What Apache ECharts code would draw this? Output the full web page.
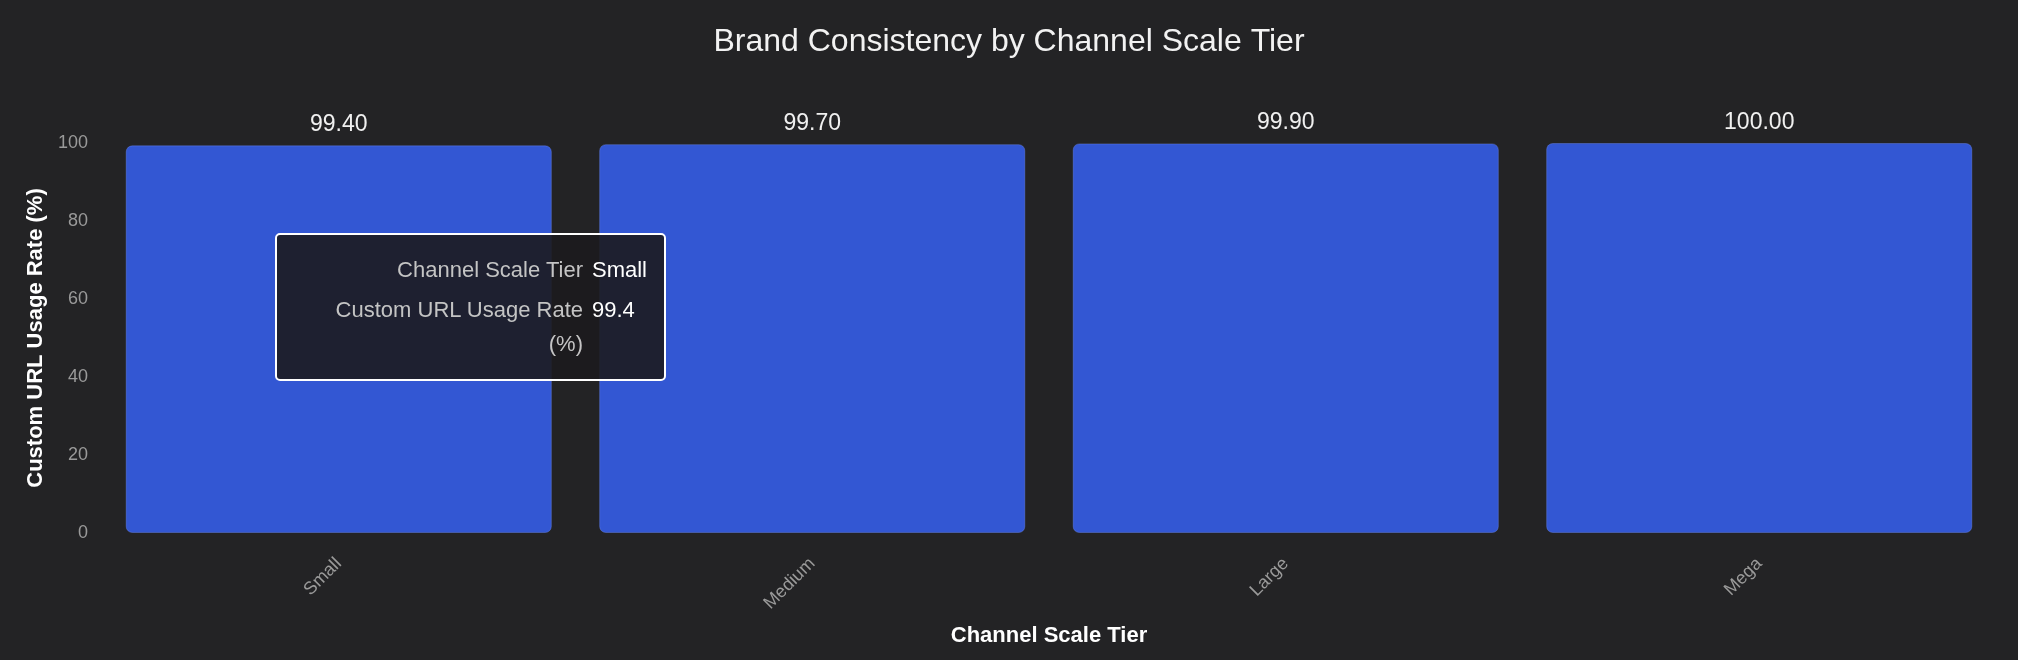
<!DOCTYPE html>
<html>
<head>
    <meta charset="utf-8">
    <title>Brand Consistency by Channel Scale Tier</title>
    <style>
        html, body { margin: 0; padding: 0; background: #232325; }
        #chart { width: 2018px; height: 660px; }
    </style>
</head>
<body>
<div id="chart"></div>

<script src="https://cdn.jsdelivr.net/npm/echarts@6/dist/echarts.min.js"></script>
<script>
    // data
    var tiers = ['Small', 'Medium', 'Large', 'Mega'];
    var usageRate = [99.4, 99.7, 99.9, 100.0];
    var yTicks = [0, 20, 40, 60, 80, 100];

    var font = '"Liberation Sans", "Helvetica Neue", Arial, sans-serif';

    var chart = echarts.init(document.getElementById('chart'));
    var option = {
        backgroundColor: '#232325',
        textStyle: { fontFamily: font },
        title: {
            text: 'Brand Consistency by Channel Scale Tier',
            left: 'center',
            top: 21,
            textStyle: { color: '#f2f2f2', fontSize: 32, fontWeight: 'normal', fontFamily: font }
        },
        grid: { left: 102, right: 22, top: 143, bottom: 127 },
        tooltip: {
            trigger: 'item',
            alwaysShowContent: true,
            position: [275, 233],
            backgroundColor: 'rgba(28,27,30,0.9)',
            borderColor: '#ffffff',
            borderWidth: 2,
            borderRadius: 5,
            padding: [18, 17, 18, 44],
            textStyle: { color: '#ffffff', fontSize: 22, fontFamily: font },
            extraCssText: 'box-shadow:none;',
            formatter: function (p) {
                var lab = 'text-align:right;color:#c4c4c4;padding:0 9px 0 0;vertical-align:top;';
                var val = 'color:#ffffff;vertical-align:top;text-align:left;padding:0;';
                return '<table style="border-collapse:collapse;font-size:22px;line-height:34px;">' +
                    '<tr><td style="' + lab + 'padding-bottom:6px;"><div style="width:262px;white-space:normal;">Channel Scale Tier</div></td>' +
                    '<td style="' + val + 'padding-bottom:6px;">' + p.name + '</td></tr>' +
                    '<tr><td style="' + lab + '"><div style="width:262px;white-space:normal;">Custom URL Usage Rate (%)</div></td>' +
                    '<td style="' + val + '">' + p.value + '</td></tr>' +
                    '</table>';
            }
        },
        xAxis: {
            type: 'category',
            data: tiers,
            name: 'Channel Scale Tier',
            nameLocation: 'middle',
            nameGap: 92,
            nameTextStyle: { color: '#ffffff', fontSize: 22, fontWeight: 'bold' },
            axisLine: { show: false },
            axisTick: { show: false },
            axisLabel: { color: '#9a9a9a', fontSize: 18, rotate: 45, margin: 28 }
        },
        yAxis: {
            type: 'value',
            min: yTicks[0],
            max: yTicks[yTicks.length - 1],
            interval: yTicks[1] - yTicks[0],
            name: 'Custom URL Usage Rate (%)',
            nameLocation: 'middle',
            nameGap: 49,
            nameTextStyle: { color: '#ffffff', fontSize: 22, fontWeight: 'bold' },
            axisLine: { show: false },
            axisTick: { show: false },
            splitLine: { show: false },
            axisLabel: { color: '#9a9a9a', fontSize: 18, margin: 14 }
        },
        series: [{
            type: 'bar',
            data: usageRate,
            barCategoryGap: '10%',
            itemStyle: {
                color: '#3357d3',
                borderRadius: 6,
                borderColor: 'rgba(120,150,255,0.35)',
                borderWidth: 1
            },
            label: {
                show: true,
                position: 'top',
                distance: 9,
                color: '#f0f0f0',
                fontSize: 23,
                formatter: function (p) { return p.value.toFixed(2); }
            }
        }]
    };
    chart.setOption(option);
    chart.dispatchAction({ type: 'showTip', seriesIndex: 0, dataIndex: 0 });
</script>
</body>
</html>
